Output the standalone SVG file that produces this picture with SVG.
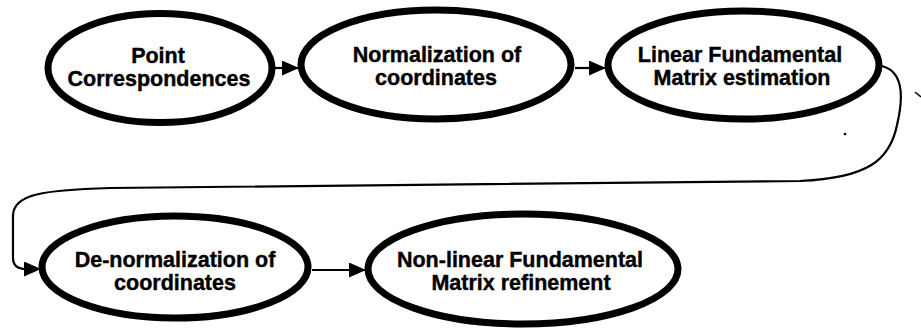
<svg xmlns="http://www.w3.org/2000/svg" width="921" height="331" viewBox="0 0 921 331">
<defs>
<style>
.node ellipse{fill:#fff;stroke:#000;stroke-width:7}
.node text{font-family:"Liberation Sans",Arial,sans-serif;font-weight:bold;font-size:21.5px;fill:#000;text-anchor:middle;stroke:#000;stroke-width:0.4}
.edge{fill:none;stroke:#000;stroke-width:2.2}
</style>
<marker id="ah" markerUnits="userSpaceOnUse" markerWidth="18" markerHeight="15" refX="17" refY="7.5" orient="auto">
<path d="M0,0 L17,7.5 L0,15 Z" fill="#000"/>
</marker>
</defs>
<rect width="921" height="331" fill="#fff"/>
<g id="connectors">
<path class="edge" d="M275 68 L299 68" marker-end="url(#ah)"/>
<path class="edge" d="M575 68 L606 68" marker-end="url(#ah)"/>
<path class="edge" d="M312 270 L366 270" marker-end="url(#ah)"/>
<path class="edge" stroke-width="1.8" d="M882 66 C905 72 903 100 897 125 C890 160 868 178 800 181 L110 188 C40 190 14 195 13 215 L13 258 C13 266 18 269 26 269 L41 269" marker-end="url(#ah)"/>
<path d="M915 92 L921 97" stroke="#000" stroke-width="1.5"/>
<circle cx="845" cy="134" r="1.3" fill="#000"/>
</g>
<g id="n1" class="node">
<ellipse cx="160" cy="68" rx="112" ry="54.5"/>
<text x="158" y="63">Point</text>
<text x="159" y="86">Correspondences</text>
</g>
<g id="n2" class="node">
<ellipse cx="436" cy="64.5" rx="135" ry="54.5"/>
<text x="437" y="62">Normalization of</text>
<text x="436" y="85">coordinates</text>
</g>
<g id="n3" class="node">
<ellipse cx="743.5" cy="65" rx="135.5" ry="54"/>
<text x="740" y="62">Linear Fundamental</text>
<text x="742" y="85">Matrix estimation</text>
</g>
<g id="n4" class="node">
<ellipse cx="175" cy="267" rx="133" ry="51"/>
<text x="175" y="267">De-normalization of</text>
<text x="175" y="290">coordinates</text>
</g>
<g id="n5" class="node">
<ellipse cx="523" cy="269" rx="155" ry="55"/>
<text x="520" y="267">Non-linear Fundamental</text>
<text x="521" y="290">Matrix refinement</text>
</g>
</svg>
